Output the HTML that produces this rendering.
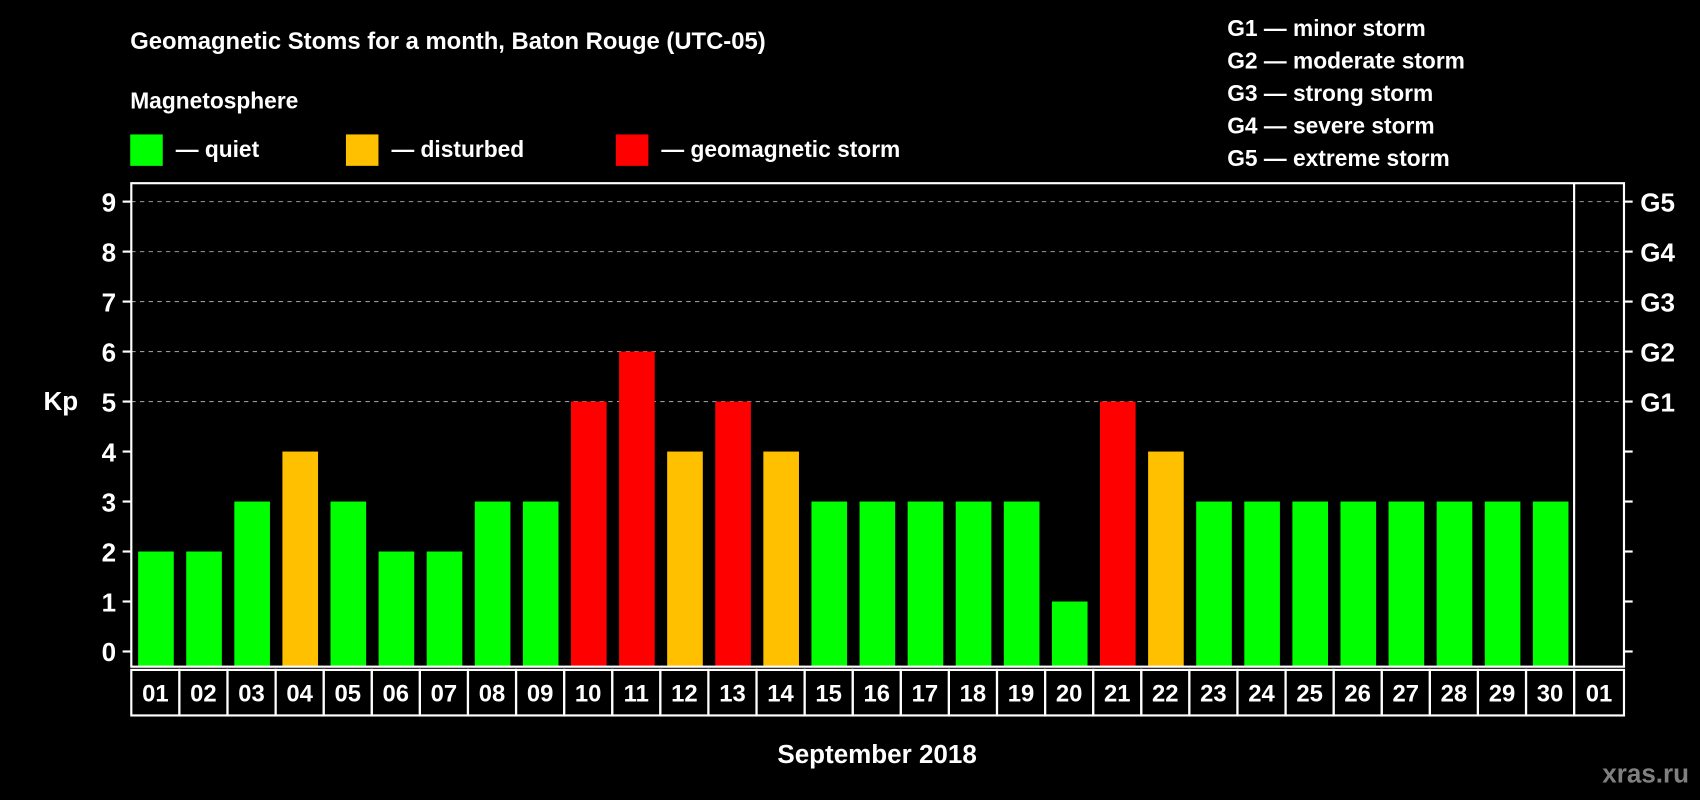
<!DOCTYPE html>
<html><head><meta charset="utf-8"><style>
html,body{margin:0;padding:0;background:#000;}
svg{display:block;}
text{font-family:"Liberation Sans",Arial,sans-serif;font-weight:bold;fill:#fff;}
</style></head><body>
<svg id="chart" width="1700" height="800" viewBox="0 0 1568 738" xmlns="http://www.w3.org/2000/svg">
<rect width="1568" height="738" fill="#000"/>
<text x="120" y="45" font-size="22">Geomagnetic Stoms for a month, Baton Rouge (UTC-05)</text>
<text x="120" y="100" font-size="21">Magnetosphere</text>
<g>
<rect x="120" y="124" width="30" height="29" fill="#00ff00"/>
<text x="162" y="145" font-size="21">— quiet</text>
<rect x="319" y="124" width="30" height="29" fill="#ffc000"/>
<text x="361" y="145" font-size="21">— disturbed</text>
<rect x="568" y="124" width="30" height="29" fill="#ff0000"/>
<text x="610" y="145" font-size="21">— geomagnetic storm</text>
</g>
<g font-size="21">
<text x="1132" y="33">G1 — minor storm</text>
<text x="1132" y="63">G2 — moderate storm</text>
<text x="1132" y="93">G3 — strong storm</text>
<text x="1132" y="123">G4 — severe storm</text>
<text x="1132" y="153">G5 — extreme storm</text>
</g>
<text x="40" y="378" font-size="24">Kp</text>
<text x="809" y="704" font-size="24" text-anchor="middle">September 2018</text>
<text x="1558" y="722" font-size="24" text-anchor="end" style="fill:#808080">xras.ru</text>
<g id="grid"></g>
<g id="bars"></g>
<g id="axes"></g>
</svg>
<script>
const days=["01","02","03","04","05","06","07","08","09","10","11","12","13","14","15","16","17","18","19","20","21","22","23","24","25","26","27","28","29","30","01"];
const kpValues=[2,2,3,4,3,2,2,3,3,5,6,4,5,4,3,3,3,3,3,1,5,4,3,3,3,3,3,3,3,3];
const yTicks=[0,1,2,3,4,5,6,7,8,9];
const gLabels=["G1","G2","G3","G4","G5"];
const gLevels=[5,6,7,8,9];

const NS="http://www.w3.org/2000/svg";
const L=121,R=1498,T=169,B=615,SEP=1452;
const pitch=(SEP-L)/30;
function xScale(i){return L+i*pitch;}
function yScale(v){return 601-v*(601-186)/9;}
function color(v){return v>=5?"#ff0000":(v>=4?"#ffc000":"#00ff00");}
function mk(tag,attrs,parent){const e=document.createElementNS(NS,tag);for(const k in attrs)e.setAttribute(k,attrs[k]);parent.appendChild(e);return e;}
const grid=document.getElementById('grid'),bars=document.getElementById('bars'),axes=document.getElementById('axes');

yTicks.forEach(v=>{
  const y=yScale(v);
  if(v>=5){
    const g=mk('line',{x1:L,x2:R,y1:y,y2:y,stroke:'#999','stroke-width':1,'stroke-dasharray':'4,4'},grid);
    
    
  }
  const t=mk('line',{x1:L-8,x2:L,y1:y,y2:y,stroke:'#fff','stroke-width':2},axes);
  
  
  const rt=mk('line',{x1:R,x2:R+8,y1:y,y2:y,stroke:'#fff','stroke-width':2},axes);
  
  
  const lb=mk('text',{x:L-14,y:y+9,'font-size':24,'text-anchor':'end'},axes);
  lb.textContent=v;
  
  
});
gLabels.forEach((g,i)=>{
  const lb=mk('text',{x:R+15,y:yScale(gLevels[i])+9,'font-size':24},axes);
  lb.textContent=g;
  
  
});
kpValues.forEach((v,i)=>{
  const y=yScale(v);
  const r=mk('rect',{x:xScale(i)+6.3,y:y,width:pitch-11.5,height:B-y,fill:color(v)},bars);
  
  
});
const fr=mk('rect',{x:L,y:T,width:R-L,height:B-T,fill:'none',stroke:'#fff','stroke-width':2},axes);


const sep=mk('line',{x1:SEP,x2:SEP,y1:T,y2:B,stroke:'#fff','stroke-width':2},axes);


days.forEach((d,i)=>{
  const x0=xScale(i),x1=(i===days.length-1)?R:xScale(i+1);
  const c=mk('rect',{x:x0,y:618,width:x1-x0,height:42,fill:'none',stroke:'#fff','stroke-width':2},axes);
  
  
  const t=mk('text',{x:(x0+x1)/2,y:647,'font-size':22,'text-anchor':'middle'},axes);
  t.textContent=d;
  
  
});
</script>
</body></html>
